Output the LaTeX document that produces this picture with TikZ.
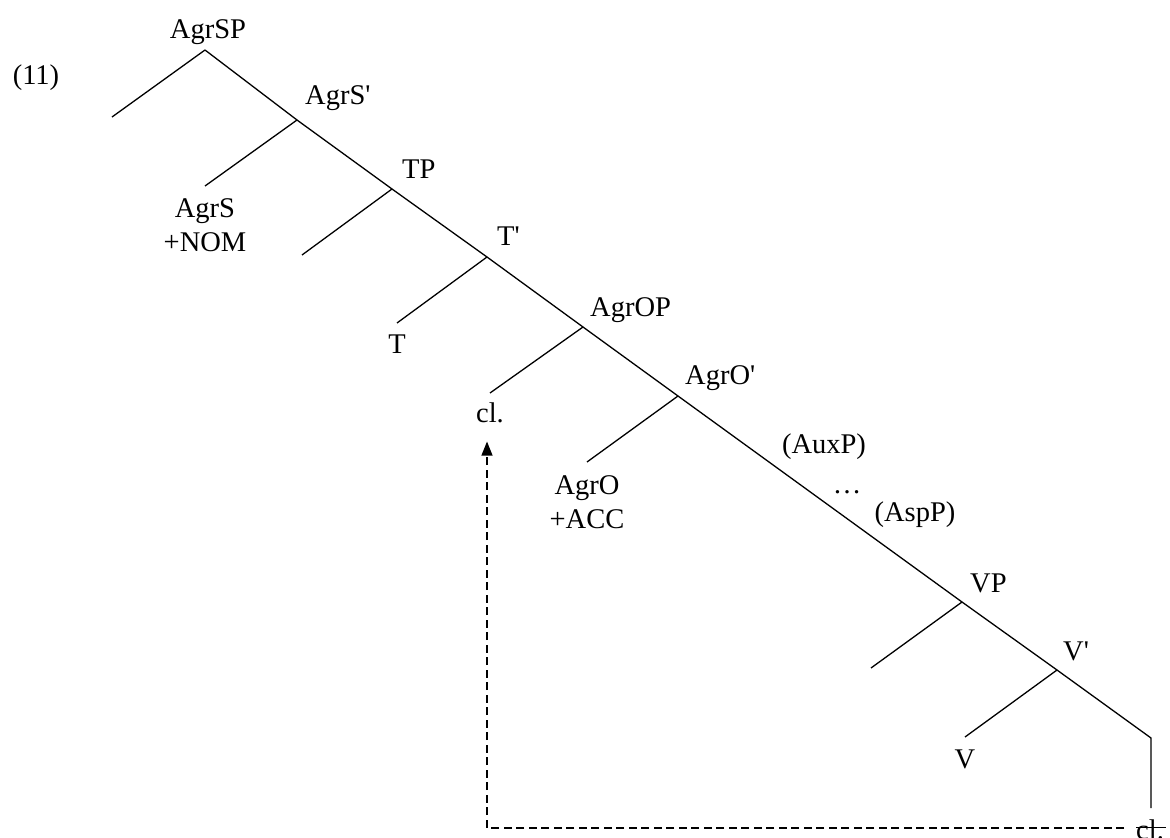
\documentclass[tikz,border=0pt]{standalone}
\usepackage{fontspec}
\setmainfont{Liberation Serif}
\usetikzlibrary{arrows.meta, positioning}

\newcommand{\barmark}{\textquotesingle}

\begin{document}
\begin{tikzpicture}[
    x=1pt, y=-1pt,
    cat/.style={font=\fontsize{28.5}{34}\selectfont, inner sep=0pt, anchor=base west},
    leaf/.style={font=\fontsize{28.5}{34}\selectfont, inner sep=0pt, align=center},
    branch/.style={line width=1.3pt},
    move/.style={line width=1.2pt, dash pattern=on 8pt off 4.5pt, -{Triangle[length=14pt, width=11pt]}},
    node distance=12pt
]
    \useasboundingbox (0,0) rectangle (1170,838);

    % spine of the tree
    \coordinate (agrsp) at (205,50);
    \coordinate (agrsbar) at (297,120);
    \coordinate (tp) at (392,189);
    \coordinate (tbar) at (487,257);
    \coordinate (agrop) at (583,327);
    \coordinate (agrobar) at (678,396);
    \coordinate (vp) at (962,602);
    \coordinate (vbar) at (1057,670);
    \coordinate (vcomp) at (1151,738);
    \coordinate (vcompend) at (1151,808);

    % left daughters
    \coordinate (specagrsp) at (112,117);
    \coordinate (agrsend) at (205,186);
    \coordinate (spectp) at (302,255);
    \coordinate (tend) at (397,323);
    \coordinate (clend) at (490,393);
    \coordinate (agroend) at (587,462);
    \coordinate (specvp) at (871,668);
    \coordinate (vend) at (965,737);

    \node[cat, anchor=center] (exnum) at (36,78) {(11)};
    \node[cat, anchor=base] (agrsplbl) at (208,38) {AgrSP};
    \node[cat] (agrsbarlbl) at (305,104) {AgrS\barmark};
    \node[cat] (tplbl) at (402,178) {TP};
    \node[cat] (tbarlbl) at (497,245) {T\barmark};
    \node[cat] (agroplbl) at (590,316) {AgrOP};
    \node[cat] (agrobarlbl) at (685,384) {AgrO\barmark};
    \node[cat, anchor=center] (auxp) at (824,447) {(AuxP)};
    \node[cat, anchor=base] (dots) at (847,493) {…};
    \node[cat, anchor=center] (aspp) at (915,515) {(AspP)};
    \node[cat] (vplbl) at (970,592) {VP};
    \node[cat] (vbarlbl) at (1063,660) {V\barmark};

    \node[leaf, below=of agrsend] (agrs) {AgrS\\+NOM};
    \node[leaf, below=of tend] (t) {T};
    \node[leaf, below=10pt of clend] (cl) {cl.};
    \node[leaf, below=13pt of agroend] (agro) {AgrO\\+ACC};
    \node[leaf, below=13pt of vend] (v) {V};
    \node[cat] (trace) at (1136,839) {\rlap{\rule[0.4em]{1.05em}{1pt}}cl.};

    \draw[branch] (agrsp) -- (agrsbar) -- (tp) -- (tbar) -- (agrop) -- (agrobar)
        -- (vp) -- (vbar) -- (vcomp) -- (vcompend);
    \draw[branch] (agrsp) -- (specagrsp);
    \draw[branch] (agrsbar) -- (agrsend);
    \draw[branch] (tp) -- (spectp);
    \draw[branch] (tbar) -- (tend);
    \draw[branch] (agrop) -- (clend);
    \draw[branch] (agrobar) -- (agroend);
    \draw[branch] (vp) -- (specvp);
    \draw[branch] (vbar) -- (vend);

    \coordinate (corner) at (487,828);
    \draw[move, shorten <=12pt, shorten >=18pt] (trace.west |- corner) -- (corner) -- (corner |- cl.south);
\end{tikzpicture}
\end{document}
